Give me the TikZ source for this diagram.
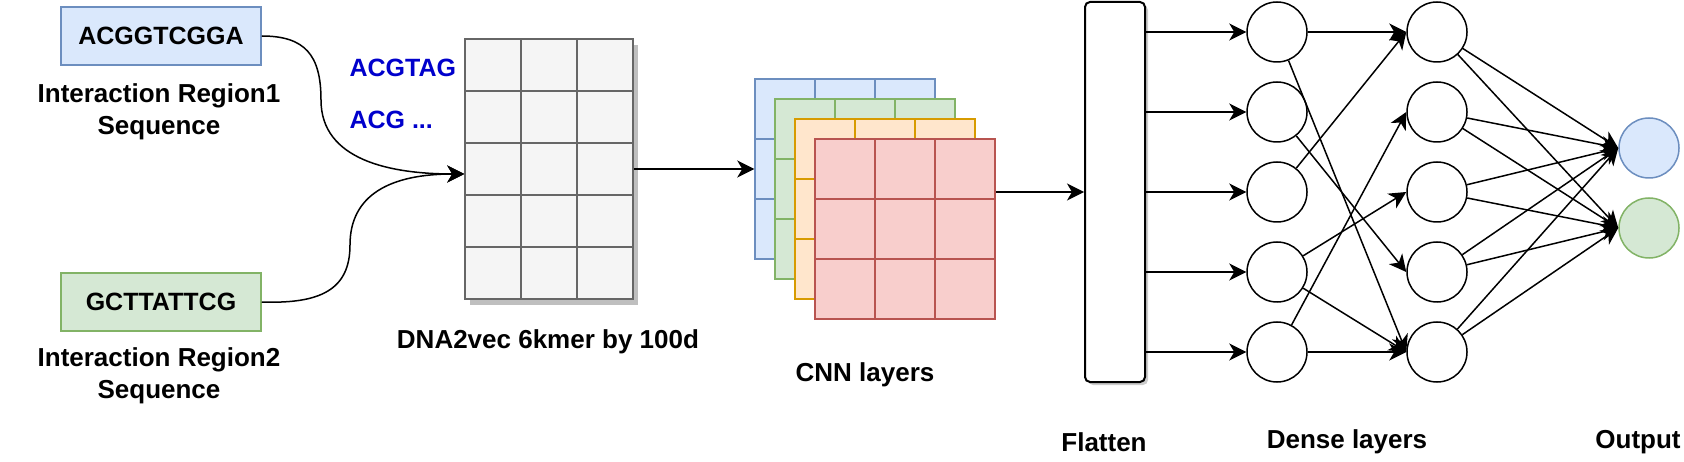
\documentclass[tikz,border=0pt]{standalone}
\usepackage{fontspec}
\setmainfont{Liberation Sans}
\usetikzlibrary{arrows.meta,shadows}
\definecolor{fillblue}{HTML}{DAE8FC}
\definecolor{lineblue}{HTML}{6C8EBF}
\definecolor{fillgreen}{HTML}{D5E8D4}
\definecolor{linegreen}{HTML}{82B366}
\definecolor{fillorange}{HTML}{FFE6CC}
\definecolor{lineorange}{HTML}{D79B00}
\definecolor{fillred}{HTML}{F8CECC}
\definecolor{linered}{HTML}{B85450}
\definecolor{fillgray}{HTML}{F5F5F5}
\definecolor{linegray}{HTML}{666666}
\definecolor{kmerblue}{HTML}{0000CC}
\tikzset{
  seqbox/.style={rectangle, line width=1.5pt, minimum width=200pt, minimum height=58pt, font=\fontsize{25}{30}\selectfont\bfseries},
  captiontext/.style={align=center, font=\fontsize{26}{32}\selectfont\bfseries},
  kmer/.style={anchor=west, text=kmerblue, font=\fontsize{25}{30}\selectfont\bfseries},
  embedbox/.style={rectangle, draw=linegray, fill=fillgray, line width=1.5pt, minimum width=168pt, minimum height=260pt,
    drop shadow={shadow xshift=5pt, shadow yshift=-6pt, fill=black!25, opacity=1}},
  cnnmap/.style={rectangle, line width=1.5pt, minimum size=180pt},
  cell/.style={line width=1.5pt},
  flatbar/.style={rectangle, rounded corners=5pt, draw, line width=2pt, fill=white, minimum width=60pt, minimum height=380pt,
    drop shadow={shadow xshift=3pt, shadow yshift=-3pt, fill=black!20, opacity=1}},
  neuron/.style={circle, draw, line width=1.5pt, minimum size=60pt, inner sep=0pt},
  link/.style={line width=1.5pt, -{Stealth[length=17pt,width=17pt,inset=5pt]}}
}
\begin{document}
\begin{tikzpicture}[x=1pt, y=-1pt]
  \useasboundingbox (0,0) rectangle (1684,462);

  % input sequences
  \node[seqbox, draw=lineblue, fill=fillblue] (seqA) at (161,36) {ACGGTCGGA};
  \node[captiontext] (capA) at (159,112) {Interaction Region1\\Sequence};
  \node[seqbox, draw=linegreen, fill=fillgreen] (seqB) at (161,302) {GCTTATTCG};
  \node[captiontext] (capB) at (159,376) {Interaction Region2\\Sequence};
  \node[kmer] (kmerA) at (346,68) {ACGTAG};
  \node[kmer] (kmerB) at (346,120) {ACG ...};

  % embedding table
  \node[embedbox] (embed) at (549,169) {};
  \draw[linegray, cell] (521,39) -- (521,299) (577,39) -- (577,299)
    (465,91) -- (633,91) (465,143) -- (633,143) (465,195) -- (633,195) (465,247) -- (633,247);
  \node[captiontext] (capEmbed) at (548,342) {DNA2vec 6kmer by 100d};
  \coordinate (join) at ([yshift=-5pt]embed.west);
  \draw[link] (seqA.east) .. controls (305,36) and (321,55) .. (321,100)
    .. controls (321,160) and (390,174) .. (join);
  \draw[link] (seqB.east) .. controls (320,304) and (350,290) .. (350,245)
    .. controls (350,195) and (390,174) .. (join);

  % CNN feature maps
  \node[cnnmap, draw=lineblue, fill=fillblue] (cnnA) at (845,169) {};
  \draw[lineblue, cell] (815,79) -- (815,259) (875,79) -- (875,259) (755,139) -- (935,139) (755,199) -- (935,199);
  \node[cnnmap, draw=linegreen, fill=fillgreen] (cnnB) at (865,189) {};
  \draw[linegreen, cell] (835,99) -- (835,279) (895,99) -- (895,279) (775,159) -- (955,159) (775,219) -- (955,219);
  \node[cnnmap, draw=lineorange, fill=fillorange] (cnnC) at (885,209) {};
  \draw[lineorange, cell] (855,119) -- (855,299) (915,119) -- (915,299) (795,179) -- (975,179) (795,239) -- (975,239);
  \node[cnnmap, draw=linered, fill=fillred] (cnnD) at (905,229) {};
  \draw[linered, cell] (875,139) -- (875,319) (935,139) -- (935,319) (815,199) -- (995,199) (815,259) -- (995,259);
  \node[captiontext] (capCnn) at (865,375) {CNN layers};
  \draw[link] (embed.east) -- (cnnA.west);

  % flatten
  \node[flatbar] (flat) at (1115,192) {};
  \node[captiontext] (capFlat) at (1104,442) {Flatten};
  \draw[link] (cnnD.east |- flat) -- (flat.west);

  % dense layers
  \node[neuron] (d1a) at (1277,32) {};
  \node[neuron] (d1b) at (1277,112) {};
  \node[neuron] (d1c) at (1277,192) {};
  \node[neuron] (d1d) at (1277,272) {};
  \node[neuron] (d1e) at (1277,352) {};
  \node[neuron] (d2a) at (1437,32) {};
  \node[neuron] (d2b) at (1437,112) {};
  \node[neuron] (d2c) at (1437,192) {};
  \node[neuron] (d2d) at (1437,272) {};
  \node[neuron] (d2e) at (1437,352) {};
  \node[captiontext] (capDense) at (1347,442) {Dense layers};

  % output
  \node[neuron, draw=lineblue, fill=fillblue] (outA) at (1649,148) {};
  \node[neuron, draw=linegreen, fill=fillgreen] (outB) at (1649,228) {};
  \node[captiontext] (capOut) at (1638,442) {Output};

  \draw[link] (flat.east |- d1a) -- (d1a);
  \draw[link] (flat.east |- d1b) -- (d1b);
  \draw[link] (flat.east |- d1c) -- (d1c);
  \draw[link] (flat.east |- d1d) -- (d1d);
  \draw[link] (flat.east |- d1e) -- (d1e);

  \draw[link] (d1a) -- (d2a.west);
  \draw[link] (d1a) -- (d2e.west);
  \draw[link] (d1b) -- (d2d.west);
  \draw[link] (d1c) -- (d2a.west);
  \draw[link] (d1d) -- (d2c.west);
  \draw[link] (d1d) -- (d2e.west);
  \draw[link] (d1e) -- (d2b.west);
  \draw[link] (d1e) -- (d2e.west);

  \draw[link] (d2a) -- (outA.west);
  \draw[link] (d2a) -- (outB.west);
  \draw[link] (d2b) -- (outA.west);
  \draw[link] (d2b) -- (outB.west);
  \draw[link] (d2c) -- (outA.west);
  \draw[link] (d2c) -- (outB.west);
  \draw[link] (d2d) -- (outA.west);
  \draw[link] (d2d) -- (outB.west);
  \draw[link] (d2e) -- (outA.west);
  \draw[link] (d2e) -- (outB.west);
\end{tikzpicture}
\end{document}
